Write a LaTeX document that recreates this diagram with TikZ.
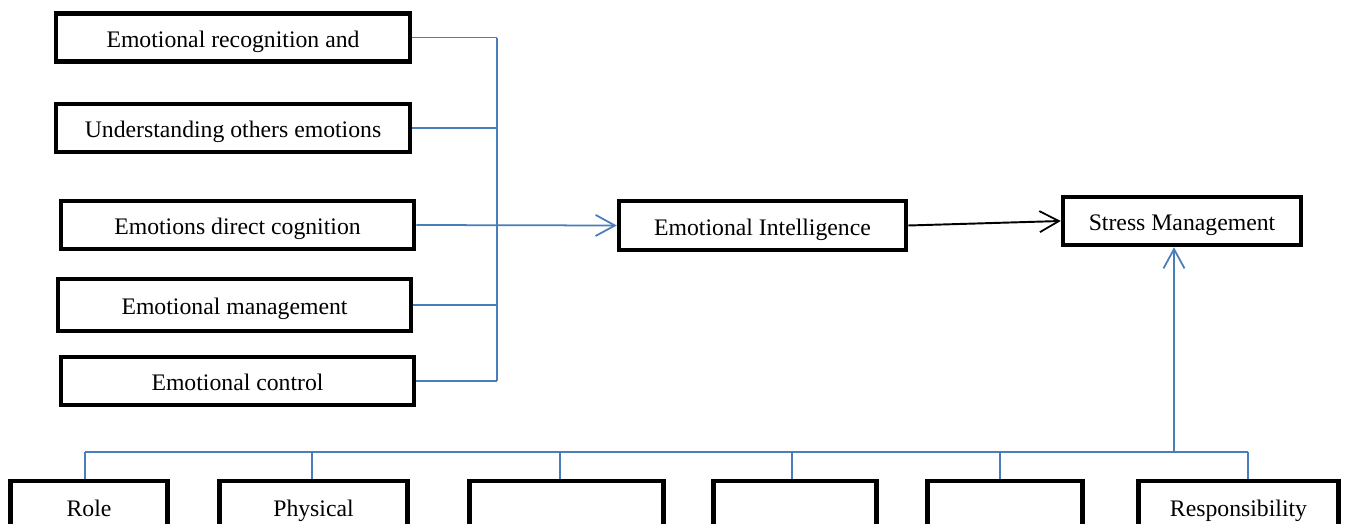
\documentclass[tikz,border=0pt]{standalone}
\usepackage{fontspec}
\setmainfont{Liberation Serif}
\usetikzlibrary{arrows.meta}
\definecolor{linkblue}{RGB}{74,126,187}
\begin{document}
\begin{tikzpicture}[x=0.02cm, y=-0.02cm,
		box/.style={draw, line width=2.6pt, inner sep=0pt, minimum height=0.96cm,
			text height=11pt, text depth=0pt, font=\fontsize{13.5}{16}\selectfont},
		link/.style={draw=linkblue, line width=1pt},
		tip/.style={-{Straight Barb[length=11pt, width=12pt, line width=1pt]}}]
				\useasboundingbox (0,0) rectangle (1349,524);

				% five components on the left
				\node[box, minimum width=7.08cm] (recog) at (233,37.5) {Emotional recognition and};
				\node[box, minimum width=7.08cm] (others) at (233,128) {Understanding others emotions};
				\node[box, minimum width=7.06cm] (cogn) at (237.5,225) {Emotions direct cognition};
				\node[box, minimum width=7.06cm, minimum height=1.04cm] (manage) at (234.5,305) {Emotional management};
				\node[box, minimum width=7.06cm] (control) at (237.5,381) {Emotional control};

				\node[box, minimum width=5.74cm, minimum height=0.98cm] (ei) at (762.5,225.5) {Emotional Intelligence};
				\node[box, minimum width=4.76cm] (sm) at (1182,221) {Stress Management};

				% stressors at the bottom
				\node[box, minimum width=3.14cm, minimum height=1.04cm] (role) at (89,507) {Role};
				\node[box, minimum width=3.76cm, minimum height=1.04cm] (phys) at (313.5,507) {Physical};
				\node[box, minimum width=3.88cm, minimum height=1.04cm] (str3) at (566.5,507) {};
				\node[box, minimum width=3.26cm, minimum height=1.04cm] (str4) at (795,507) {};
				\node[box, minimum width=3.10cm, minimum height=1.04cm] (str5) at (1005,507) {};
				\node[box, minimum width=4.00cm, minimum height=1.04cm] (resp) at (1238.5,507) {Responsibility};

				% left bracket
				\coordinate (spine) at (497,0);
				\draw[link] (recog.east) -- (recog.east -| spine);
				\draw[link] (others.east) -- (others.east -| spine);
				\draw[link] (manage.east) -- (manage.east -| spine);
				\draw[link] (control.east) -- (control.east -| spine);
				\draw[link] (recog.east -| spine) -- (control.east -| spine);
				\draw[link, tip] (cogn.east) -- (ei.west);

				\draw[line width=1.1pt, tip] (ei.east) -- (sm.west);

				% bottom bracket
				\coordinate (t1) at (85,452);
				\coordinate (t2) at (312,452);
				\coordinate (t3) at (560,452);
				\coordinate (t4) at (792,452);
				\coordinate (t5) at (1000,452);
				\coordinate (t6) at (1248,452);
				\coordinate (up) at (1174,452);
				\draw[link] (t1) -- (t6);
				\draw[link] (t1) -- (t1 |- role.north);
				\draw[link] (t2) -- (t2 |- phys.north);
				\draw[link] (t3) -- (t3 |- str3.north);
				\draw[link] (t4) -- (t4 |- str4.north);
				\draw[link] (t5) -- (t5 |- str5.north);
				\draw[link] (t6) -- (t6 |- resp.north);
				\draw[link, tip] (up) -- (up |- sm.south);

			\end{tikzpicture}
\end{document}
